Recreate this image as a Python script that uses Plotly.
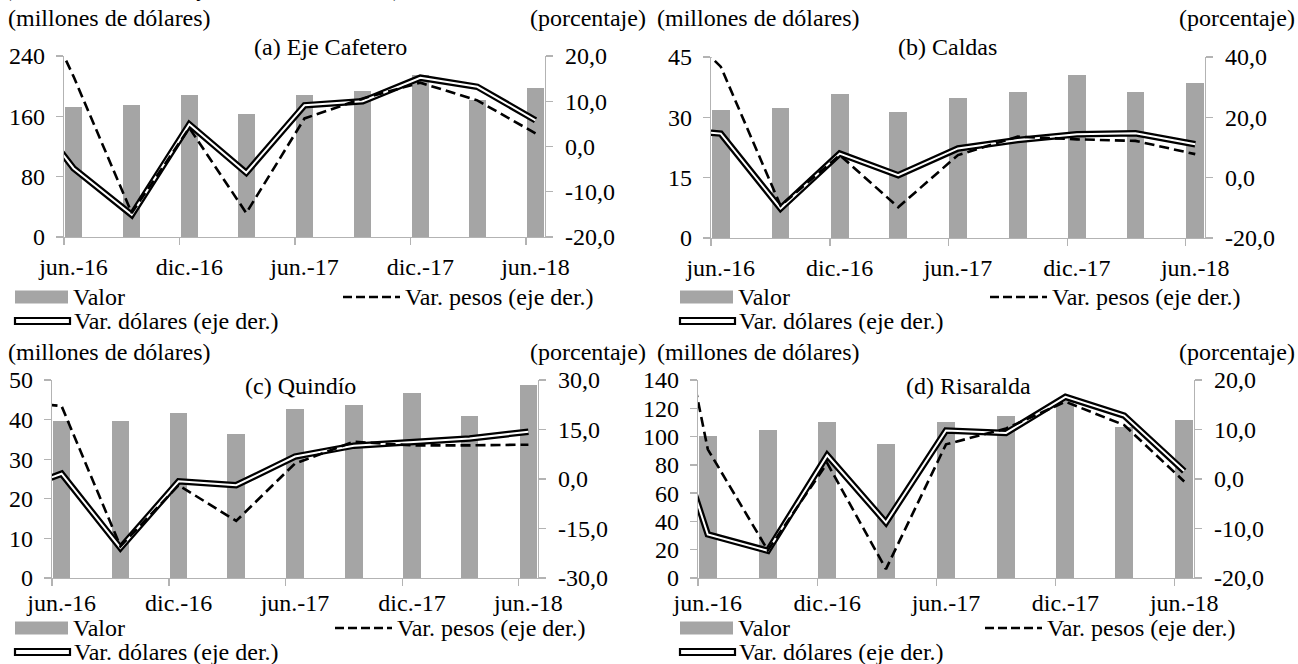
import plotly.graph_objects as go

W, H = 1298, 664
FONT = "Liberation Serif, Times New Roman, Tinos, DejaVu Serif, serif"
BAR_COLOR = "#a5a5a5"
AXIS_COLOR = "#b3b3b3"

# ---------------- data ----------------
bar_dates = ["2016-06-16", "2016-09-16", "2016-12-16", "2017-03-16", "2017-06-16",
             "2017-09-16", "2017-12-16", "2018-03-16", "2018-06-16"]
line_dates = ["2016-03-16"] + bar_dates

tick_dates = ["2016-06-16", "2016-12-16", "2017-06-16", "2017-12-16", "2018-06-16"]
tick_labels = ["jun.-16", "dic.-16", "jun.-17", "dic.-17", "jun.-18"]

titles = ["(a) Eje Cafetero", "(b) Caldas", "(c) Quindío", "(d) Risaralda"]

valor_a = [172.6, 174.8, 188.0, 162.9, 188.0, 193.3, 215.0, 182.0, 198.0]
pesos_a = [43.0, 15.5, -14.7, 4.1, -14.7, 6.2, 10.6, 14.1, 10.2, 2.9]
dolares_a = [12.0, -4.8, -15.1, 4.9, -5.8, 9.1, 10.0, 15.2, 13.2, 5.8]

valor_b = [31.9, 32.4, 35.8, 31.4, 34.8, 36.2, 40.6, 36.2, 38.6]
pesos_b = [56.0, 36.8, -9.3, 7.5, -9.8, 7.5, 13.6, 12.7, 12.2, 7.8]
dolares_b = [16.5, 14.6, -10.2, 8.0, 0.8, 9.7, 12.5, 14.4, 14.7, 11.1]

valor_c = [39.7, 39.7, 41.7, 36.3, 42.8, 43.7, 46.7, 40.8, 48.7]
pesos_c = [23.9, 22.1, -20.4, -1.9, -12.7, 4.7, 11.3, 10.2, 10.2, 10.4]
dolares_c = [-5.0, 1.6, -20.9, -0.7, -1.9, 6.8, 10.1, 11.2, 12.3, 14.3]

valor_d = [100.2, 104.4, 110.6, 94.6, 110.6, 114.3, 126.5, 107.0, 111.8]
pesos_d = [66.0, 6.0, -14.4, 3.2, -18.2, 7.0, 10.2, 15.6, 10.9, -0.5]
dolares_d = [26.0, -11.2, -14.5, 4.8, -8.8, 9.8, 9.3, 16.6, 12.8, 1.6]

left_ticks_a = [0, 80, 160, 240]
left_ticks_b = [0, 15, 30, 45]
left_ticks_c = [0, 10, 20, 30, 40, 50]
left_ticks_d = [0, 20, 40, 60, 80, 100, 120, 140]

right_ticks_a = [-20, -10, 0, 10, 20]
right_ticks_b = [-20, 0, 20, 40]
right_ticks_c = [-30, -15, 0, 15, 30]
right_ticks_d = [-20, -10, 0, 10, 20]

legend_labels = ["Valor", "Var. pesos (eje der.)", "Var. dólares (eje der.)"]
unit_left = "(millones de dólares)"
unit_right = "(porcentaje)"
top_caption = "(millones de dólares y variaciones anuales)"

panels = [
    dict(valor=valor_a, pesos=pesos_a, dolares=dolares_a, lt=left_ticks_a, rt=right_ticks_a,
         box=(64, 545, 56, 237), title_xy=(330, 47), unit_y=18, unit_x=(6, 648),
         xstand=8, leg=dict(x0=15, dash_x=343, y1=297, y2=321)),
    dict(valor=valor_b, pesos=pesos_b, dolares=dolares_b, lt=left_ticks_b, rt=right_ticks_b,
         box=(711, 1205, 57, 238), title_xy=(947, 47), unit_y=18, unit_x=(655, 1297),
         xstand=8, leg=dict(x0=680, dash_x=990, y1=297, y2=321)),
    dict(valor=valor_c, pesos=pesos_c, dolares=dolares_c, lt=left_ticks_c, rt=right_ticks_c,
         box=(52, 538, 380, 578), title_xy=(300, 386), unit_y=352, unit_x=(6, 648),
         xstand=3, leg=dict(x0=15, dash_x=335, y1=628, y2=652)),
    dict(valor=valor_d, pesos=pesos_d, dolares=dolares_d, lt=left_ticks_d, rt=right_ticks_d,
         box=(698, 1194, 380, 578), title_xy=(968, 386), unit_y=352, unit_x=(655, 1297),
         xstand=3, leg=dict(x0=680, dash_x=985, y1=628, y2=652)),
]


def px(x):
    return x / W


def py(y):
    return 1 - y / H


def fmt(v):
    return f"{v:.1f}".replace(".", ",")


fig = go.Figure()
layout = dict(
    width=W, height=H, autosize=False,
    margin=dict(l=0, r=0, t=0, b=0, pad=0, autoexpand=False),
    paper_bgcolor="white", plot_bgcolor="white", showlegend=False,
    font=dict(family=FONT, size=24, color="black"),
    bargap=0,
)
annotations = []
shapes = []
BAR_WIDTH_MS = 27.5 * 24 * 3600 * 1000

for i, p in enumerate(panels):
    xa = f"x{i + 1}"
    yl = f"y{2 * i + 1}"
    yr = f"y{2 * i + 2}"
    x0, x1, y0, y1 = p["box"]

    fig.add_trace(go.Bar(x=bar_dates, y=p["valor"], xaxis=xa, yaxis=yl,
                         marker=dict(color=BAR_COLOR, line=dict(width=0)),
                         width=BAR_WIDTH_MS, name=legend_labels[0]))
    fig.add_trace(go.Scatter(x=line_dates, y=p["dolares"], xaxis=xa, yaxis=yr, mode="lines",
                             line=dict(color="black", width=6.5), name=legend_labels[2]))
    fig.add_trace(go.Scatter(x=line_dates, y=p["dolares"], xaxis=xa, yaxis=yr, mode="lines",
                             line=dict(color="white", width=2), name=legend_labels[2]))
    fig.add_trace(go.Scatter(x=line_dates, y=p["pesos"], xaxis=xa, yaxis=yr, mode="lines",
                             line=dict(color="black", width=2.6, dash="10px,5px"),
                             name=legend_labels[1]))

    xkey = "xaxis" if i == 0 else f"xaxis{i + 1}"
    ylkey = f"yaxis{2 * i + 1}" if i > 0 else "yaxis"
    yrkey = f"yaxis{2 * i + 2}"
    layout[xkey] = dict(
        domain=[px(x0), px(x1)], anchor=yl, type="date",
        range=["2016-06-01", "2018-07-01"],
        tickmode="array", tickvals=tick_dates, ticktext=tick_labels,
        ticks="", showline=True, linecolor=AXIS_COLOR, linewidth=1.3,
        showgrid=False, zeroline=False, ticklabelstandoff=p["xstand"], automargin=False,
        minor=dict(tick0="2016-06-01", dtick="M6", ticks="outside", ticklen=7,
                   tickcolor=AXIS_COLOR, tickwidth=1.3, showgrid=False),
        fixedrange=True,
    )
    lt = p["lt"]
    rt = p["rt"]
    layout[ylkey] = dict(
        domain=[py(y1), py(y0)], anchor=xa, range=[lt[0], lt[-1]],
        tickmode="array", tickvals=lt, ticktext=[str(v) for v in lt],
        ticks="outside", ticklen=7, tickcolor=AXIS_COLOR, tickwidth=1.3,
        showline=True, linecolor=AXIS_COLOR, linewidth=1.3, automargin=False,
        showgrid=False, zeroline=False, ticklabelstandoff=6, fixedrange=True,
    )
    layout[yrkey] = dict(
        overlaying=yl, side="right", anchor=xa, range=[rt[0], rt[-1]],
        tickmode="array", tickvals=rt, ticktext=[fmt(v) for v in rt],
        ticks="outside", ticklen=7, tickcolor=AXIS_COLOR, tickwidth=1.3,
        showline=True, linecolor=AXIS_COLOR, linewidth=1.3, automargin=False,
        showgrid=False, zeroline=False, ticklabelstandoff=7, fixedrange=True,
    )

    tx, ty = p["title_xy"]
    annotations.append(dict(x=px(tx), y=py(ty), xref="paper", yref="paper", text=titles[i],
                            showarrow=False, xanchor="center", yanchor="middle"))
    ux0, ux1 = p["unit_x"]
    annotations.append(dict(x=px(ux0), y=py(p["unit_y"]), xref="paper", yref="paper",
                            text=unit_left, showarrow=False, xanchor="left", yanchor="middle"))
    annotations.append(dict(x=px(ux1), y=py(p["unit_y"]), xref="paper", yref="paper",
                            text=unit_right, showarrow=False, xanchor="right", yanchor="middle"))

    lg = p["leg"]
    lx = lg["x0"]
    r1 = lg["y1"]
    r2 = lg["y2"]
    # Valor legend swatch
    shapes.append(dict(type="rect", xref="paper", yref="paper",
                       x0=px(lx), x1=px(lx + 53), y0=py(r1 + 6.5), y1=py(r1 - 6.5),
                       fillcolor=BAR_COLOR, line=dict(width=0)))
    annotations.append(dict(x=px(lx + 56), y=py(r1), xref="paper", yref="paper",
                            text=legend_labels[0], showarrow=False, xanchor="left",
                            yanchor="middle"))
    # Var. pesos legend swatch
    dx = lg["dash_x"]
    shapes.append(dict(type="line", xref="paper", yref="paper",
                       x0=px(dx), x1=px(dx + 57), y0=py(r1), y1=py(r1),
                       line=dict(color="black", width=2.6, dash="9px,4px")))
    annotations.append(dict(x=px(dx + 60), y=py(r1), xref="paper", yref="paper",
                            text=legend_labels[1], showarrow=False, xanchor="left",
                            yanchor="middle"))
    # Var. dólares legend swatch (double line)
    shapes.append(dict(type="rect", xref="paper", yref="paper",
                       x0=px(lx), x1=px(lx + 55), y0=py(r2 + 3), y1=py(r2 - 3),
                       fillcolor="white", line=dict(color="black", width=2.2)))
    annotations.append(dict(x=px(lx + 57), y=py(r2), xref="paper", yref="paper",
                            text=legend_labels[2], showarrow=False, xanchor="left",
                            yanchor="middle"))

# caption line cut off at the very top (only its descenders remain visible)
annotations.append(dict(x=px(2), y=py(3.5), xref="paper", yref="paper", text=top_caption,
                        showarrow=False, xanchor="left", yanchor="bottom",
                        font=dict(size=23)))

layout["annotations"] = annotations
layout["shapes"] = shapes
fig.update_layout(**layout)

fig.write_html("out.html", config={"displayModeBar": False, "staticPlot": True},
               post_script="document.body.style.margin='0';document.body.style.overflow='hidden';")
